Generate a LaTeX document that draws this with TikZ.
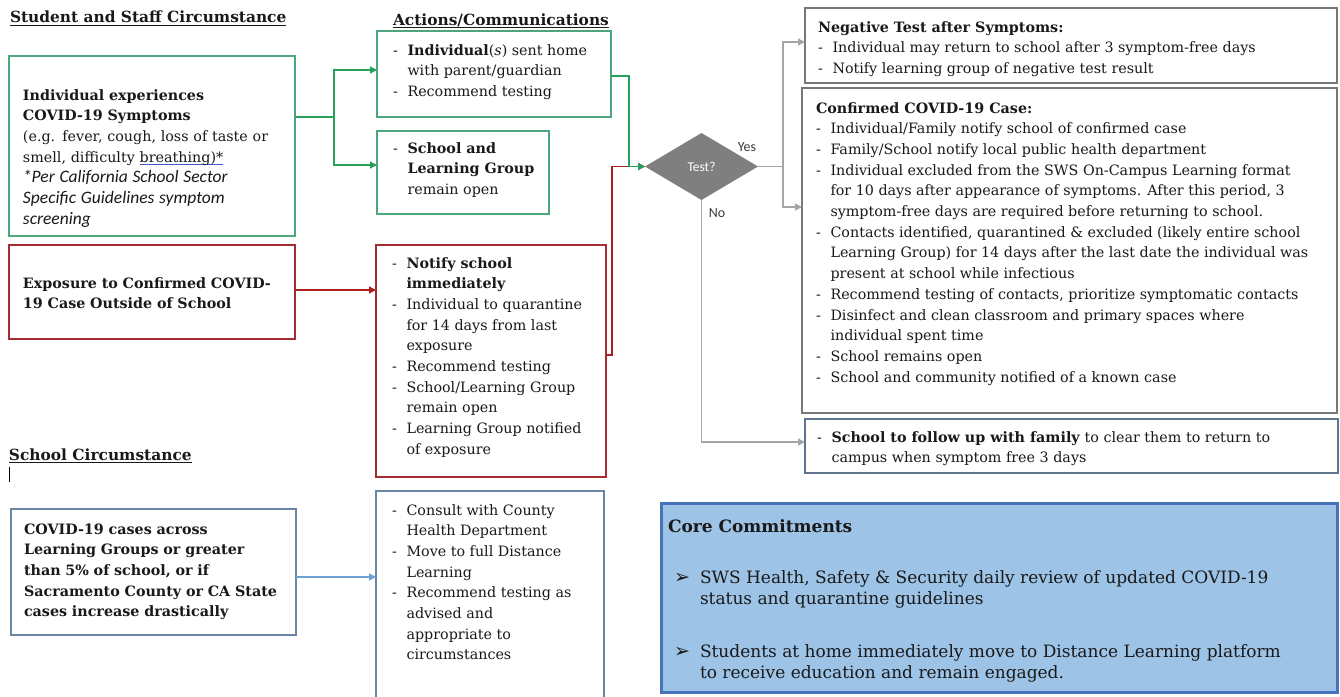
\documentclass[tikz,border=0pt]{standalone}
\usepackage{fontspec}
\setmainfont{DejaVu Serif}
\newfontfamily\calib{Carlito}
\newfontfamily\symf{DejaVu Sans}
\usetikzlibrary{shapes.geometric,arrows.meta,fit,calc}
\definecolor{gbord}{RGB}{76,166,124}
\definecolor{garr}{RGB}{38,160,90}
\definecolor{rbord}{RGB}{165,45,50}
\definecolor{rarr}{RGB}{175,30,30}
\definecolor{bbord}{RGB}{105,135,165}
\definecolor{barr}{RGB}{110,160,210}
\definecolor{gybord}{RGB}{120,120,120}
\definecolor{gyarr}{RGB}{165,165,165}
\definecolor{fbord}{RGB}{95,115,140}
\definecolor{corefill}{RGB}{157,195,230}
\definecolor{corebord}{RGB}{70,115,185}
\definecolor{diafill}{RGB}{127,127,127}
\definecolor{ulblue}{RGB}{60,90,200}
\definecolor{ink}{RGB}{25,25,25}
\newcommand\dsh{\makebox[14.5pt][l]{-}}
\newcommand\arw{\makebox[32pt][l]{\hspace{6pt}{\symf\bfseries\fontsize{19}{21}\selectfont ➢}}}
\newcommand\lst[1]{\begin{tabular}[t]{@{}l@{}l@{}}#1\end{tabular}}
\newcommand\hdr[1]{\setbox0=\hbox{#1}\rlap{\rule[-3pt]{\wd0}{1.1pt}}\box0}
\newcommand\bul[1]{\setbox0=\hbox{#1}\rlap{\textcolor{ulblue}{\rule[-3.2pt]{\wd0}{1pt}}}\box0}
\newcommand\itf{\calib\itshape\fontsize{17.5}{20.7}\selectfont}
\tikzset{
  every node/.style={inner sep=0pt, outer sep=0pt},
  gbox/.style={draw=gbord, line width=1.1pt},
  rbox/.style={draw=rbord, line width=1.1pt},
  bbox/.style={draw=bbord, line width=1.1pt},
  gybox/.style={draw=gybord, line width=1.1pt},
  fbox/.style={draw=fbord, line width=1.1pt},
  corebox/.style={draw=corebord, fill=corefill, line width=3pt},
  txt/.style={anchor=base west, align=left, text=ink, font=\fontsize{14.3}{20.7}\selectfont},
  lstxt/.style={anchor=base west, text=ink, font=\fontsize{14.3}{20.7}\selectfont},
  coretxt/.style={anchor=base west, text=ink, font=\fontsize{17}{21}\selectfont},
  head/.style={anchor=base west, text=ink, font=\bfseries\fontsize{15.4}{18}\selectfont},
  lbl/.style={text=ink!85, font=\calib\fontsize{14}{16}\selectfont},
  tip/.style={-{Triangle[length=7pt,width=7pt]}},
  gline/.style={draw=garr, line width=1.3pt},
  rline/.style={draw=rarr, line width=1.3pt},
  bline/.style={draw=barr, line width=1.3pt},
  gyline/.style={draw=gyarr, line width=1.3pt},
}
\begin{document}
\begin{tikzpicture}[x=1pt,y=-1pt]
\useasboundingbox[fill=white] (0,0) rectangle (1340,696);
% headings
\node[head] (h1) at (10,23) {\hdr{Student and Staff Circumstance}};
\node[head] (h2) at (393,25) {\hdr{Actions/Communications}};
\node[head] (h3) at (9,460) {\hdr{School Circumstance}};
\draw[black, line width=0.8pt] (9,467) -- (9,482);
% boxes
\node[gbox, fit={(9,56)(295,236)}] (sym) {};
\node[gbox, fit={(377,31)(611,117)}] (home) {};
\node[gbox, fit={(377,131)(549,214)}] (open) {};
\node[rbox, fit={(9,245)(295,339)}] (expo) {};
\node[rbox, fit={(376,245)(606,477)}] (notify) {};
\node[bbox, fit={(11,509)(296,635)}] (covid) {};
\node[bbox, fit={(376,491)(604,720)}] (consult) {};
\node[gybox, fit={(805,8)(1337,83)}] (neg) {};
\node[gybox, fit={(802,88)(1337,413)}] (conf) {};
\node[fbox, fit={(805,419)(1338,473)}] (follow) {};
\node[corebox, fit={(661,503)(1337,692)}] (core) {};
\node[diamond, fill=diafill, minimum width=113pt, minimum height=67pt, aspect=1.7,
      text=white, font=\calib\fontsize{13.5}{15}\selectfont] (test) at (701.5,166.5) {Test?};
\node[lbl] (yes) at (747,147) {Yes};
\node[lbl] (no) at (717,213) {No};
% texts
\node[txt, text width=270pt] (symT) at (23,100) {\textbf{Individual experiences}\\\textbf{COVID-19 Symptoms}\\(e.g. fever, cough, loss of taste or\\smell, difficulty \bul{breathing)*}\\{\itf *Per California School Sector}\\{\itf Specific Guidelines symptom}\\{\itf screening}};
\node[lstxt] (homeT) at (393,55) {\lst{\dsh & \textbf{Individual}(\textit{s}) sent home\\ & with parent/guardian\\ \dsh & Recommend testing}};
\node[lstxt] (openT) at (393,153) {\lst{\dsh & \textbf{School and}\\ & \textbf{Learning Group}\\ & remain open}};
\node[txt, text width=280pt] (expoT) at (23,288) {\textbf{Exposure to Confirmed COVID-}\\\textbf{19 Case Outside of School}};
\node[lstxt] (notifyT) at (392,268) {\lst{\dsh & \textbf{Notify school}\\ & \textbf{immediately}\\ \dsh & Individual to quarantine\\ & for 14 days from last\\ & exposure\\ \dsh & Recommend testing\\ \dsh & School/Learning Group\\ & remain open\\ \dsh & Learning Group notified\\ & of exposure}};
\node[txt, text width=280pt] (covidT) at (24,534) {\textbf{COVID-19 cases across}\\\textbf{Learning Groups or greater}\\\textbf{than 5\% of school, or if}\\\textbf{Sacramento County or CA State}\\\textbf{cases increase drastically}};
\node[lstxt] (consultT) at (392,515) {\lst{\dsh & Consult with County\\ & Health Department\\ \dsh & Move to full Distance\\ & Learning\\ \dsh & Recommend testing as\\ & advised and\\ & appropriate to\\ & circumstances}};
\node[lstxt] (negT) at (818,32) {\lst{\multicolumn{2}{@{}l@{}}{\textbf{Negative Test after Symptoms:}}\\ \dsh & Individual may return to school after 3 symptom-free days\\ \dsh & Notify learning group of negative test result}};
\node[lstxt] (confT) at (816,113) {\lst{\multicolumn{2}{@{}l@{}}{\textbf{Confirmed COVID-19 Case:}}\\ \dsh & Individual/Family notify school of confirmed case\\ \dsh & Family/School notify local public health department\\ \dsh & Individual excluded from the SWS On-Campus Learning format\\ & for 10 days after appearance of symptoms. After this period, 3\\ & symptom-free days are required before returning to school.\\ \dsh & Contacts identified, quarantined \& excluded (likely entire school\\ & Learning Group) for 14 days after the last date the individual was\\ & present at school while infectious\\ \dsh & Recommend testing of contacts, prioritize symptomatic contacts\\ \dsh & Disinfect and clean classroom and primary spaces where\\ & individual spent time\\ \dsh & School remains open\\ \dsh & School and community notified of a known case}};
\node[lstxt] (followT) at (817,442) {\lst{\dsh & \textbf{School to follow up with family} to clear them to return to\\ & campus when symptom free 3 days}};
\node[coretxt] (coreTitle) at (668,532) {\textbf{Core Commitments}};
\node[coretxt] (coreA) at (668,583) {\lst{\arw & SWS Health, Safety \& Security daily review of updated COVID-19\\ & status and quarantine guidelines}};
\node[coretxt] (coreB) at (668,657) {\lst{\arw & Students at home immediately move to Distance Learning platform\\ & to receive education and remain engaged.}};
% connectors
\coordinate (gsplit) at (334,117);
\draw[gline] (sym.east |- gsplit) -- (gsplit);
\draw[gline, tip] (gsplit) |- ([yshift=4pt]home.west);
\draw[gline, tip] (gsplit) |- ([yshift=7.5pt]open.west);
\coordinate (rj) at (612,166.5);
\draw[rline, tip] ([yshift=6pt]notify.east) -| (rj) -- (test.west);
\coordinate (gj) at (629,166.5);
\draw[gline, tip] ([yshift=-2pt]home.east) -| (gj) -- (test.west);
\draw[rline, tip] ([yshift=2pt]expo.east) -- ([yshift=2pt]expo.east -| notify.west);
\draw[bline, tip] ([yshift=-5pt]covid.east) -- ([yshift=-5pt]covid.east -| consult.west);
\coordinate (yj) at (783,166.5);
\draw[gyline] (test.east) -- (yj);
\draw[gyline, tip] (yj) |- ([yshift=3.5pt]neg.west);
\draw[gyline, tip] (yj) |- ([yshift=43.5pt]conf.west);
\draw[gyline, tip] (test.south) |- ([yshift=4pt]follow.west);
\end{tikzpicture}
\end{document}
